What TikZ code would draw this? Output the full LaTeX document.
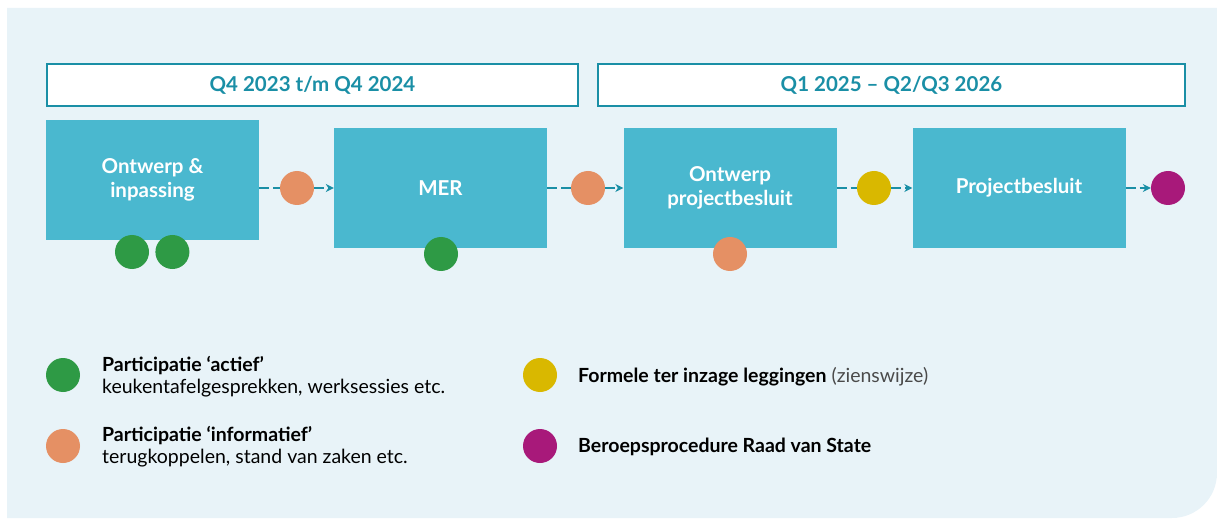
\documentclass[tikz,border=0pt]{standalone}
\usepackage{fontspec}
\setmainfont{Lato}
\usetikzlibrary{arrows.meta, positioning}

\definecolor{bgblue}{HTML}{E8F3F8}
\definecolor{boxblue}{HTML}{4AB8CF}
\definecolor{tealline}{HTML}{1A8FA6}
\definecolor{dotgreen}{HTML}{2E9A45}
\definecolor{dotorange}{HTML}{E59064}
\definecolor{dotyellow}{HTML}{D9B800}
\definecolor{dotmagenta}{HTML}{A8197A}
\definecolor{txtgray}{HTML}{4A4A4A}

\begin{document}
\begin{tikzpicture}[
    x=1pt, y=-1pt,
    >=stealth,
    period/.style={draw=tealline, line width=2pt, fill=white, minimum height=42pt, inner sep=0pt, text=tealline, font=\fontsize{20.5}{24}\selectfont\bfseries},
    stage/.style={fill=boxblue, minimum width=213pt, minimum height=120pt, inner sep=0pt, text=white, font=\fontsize{20.5}{24}\selectfont\bfseries, align=center},
    dot/.style={circle, minimum size=34pt, inner sep=0pt},
    legtext/.style={font=\fontsize{19.5}{22}\selectfont, align=left, text=black, inner sep=0pt},
    dashline/.style={dash pattern=on 10pt off 4pt, line width=2pt, tealline},
    flow/.style={-{Stealth[length=8pt, width=8pt]}, dashline}
]
    \useasboundingbox (0,0) rectangle (1217,521);
    \fill[bgblue, rounded corners=0pt] (7,8) -- (1217,8) [rounded corners=45pt] -- (1217,518) [rounded corners=0pt] -- (7,518) -- cycle;

    \node[period, minimum width=531pt] (hdrA) at (312.5,85) {Q4 2023 t/m Q4 2024};
    \node[period, minimum width=587pt] (hdrB) at (891.5,85) {Q1 2025 -- Q2/Q3 2026};

    \node[stage] (ontwerp) at (152.5,180) {Ontwerp \&\\inpassing};
    \node[stage] (mer)     at (440.5,188) {MER};
    \node[stage] (opb)     at (730,188)   {Ontwerp\\projectbesluit};
    \node[stage] (pb)      at (1019,188)  {Projectbesluit};

    \node[dot, fill=dotorange]  (oA) at (297,188) {};
    \node[dot, fill=dotorange]  (oB) at (588,188) {};
    \node[dot, fill=dotyellow]  (yA) at (874,188) {};
    \node[dot, fill=dotmagenta] (mA) at (1168,188) {};
    \node[dot, fill=dotgreen]   (gA) at (132,252) {};
    \node[dot, fill=dotgreen]   (gB) [right=6pt of gA] {};
    \node[dot, fill=dotgreen]   (gC) at (441,254) {};
    \node[dot, fill=dotorange]  (oC) at (730,254) {};

    \draw[dashline] (oA -| ontwerp.east) -- (oA);
    \draw[flow] (oA) -- (mer);
    \draw[dashline] (mer) -- (oB);
    \draw[flow] (oB) -- (opb);
    \draw[dashline] (opb) -- (yA);
    \draw[flow] (yA) -- (pb);
    \draw[flow] (pb) -- (mA);

    % legenda
    \node[dot, fill=dotgreen]   (lgG) at (63,375) {};
    \node[dot, fill=dotorange]  (lgO) at (63,446) {};
    \node[dot, fill=dotyellow]  (lgY) at (540,375) {};
    \node[dot, fill=dotmagenta] (lgM) at (540,446) {};
    \node[legtext, anchor=west] (txG) at (102,377) {\textbf{Participatie ‘actief’}\\keukentafelgesprekken, werksessies etc.};
    \node[legtext, anchor=west] (txO) at (102,447) {\textbf{Participatie ‘informatief’}\\terugkoppelen, stand van zaken etc.};
    \node[legtext, anchor=west] (txY) at (578,377) {\textbf{Formele ter inzage leggingen} \textcolor{txtgray}{(zienswijze)}};
    \node[legtext, anchor=west] (txM) at (578,447) {\textbf{Beroepsprocedure Raad van State}};

\end{tikzpicture}
\end{document}
